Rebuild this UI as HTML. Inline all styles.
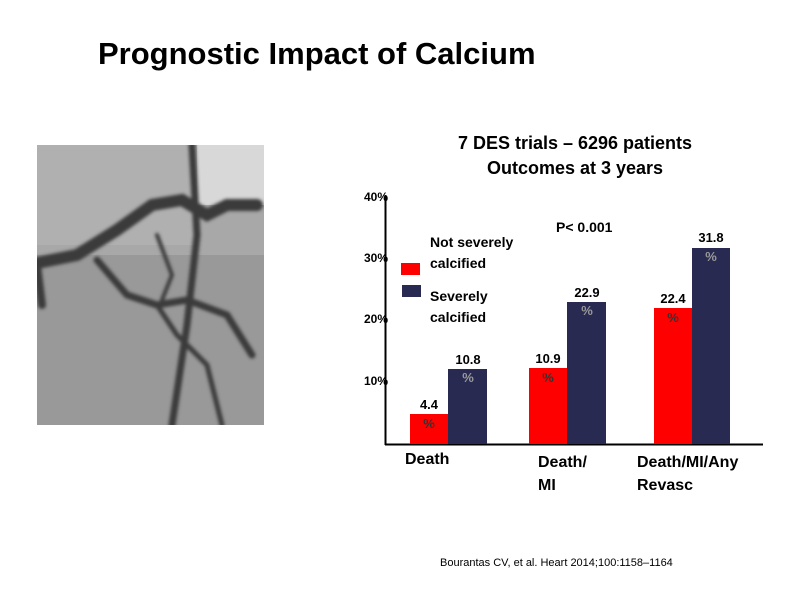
<!DOCTYPE html>
<html><head><style>
body{margin:0;width:800px;height:600px;background:#fff;position:relative;overflow:hidden;font-family:"Liberation Sans",sans-serif}
.a{position:absolute}
.b{font-weight:bold;color:#000}
.bar{position:absolute}
.r{background:#fe0000}.n{background:#282a52}
.v{position:absolute;font-weight:bold;font-size:13px;text-align:center;width:40px;line-height:14px}
</style></head><body>
<div class="a b" style="left:98px;top:36px;font-size:31px">Prognostic Impact of Calcium</div>
<svg class="a" style="left:37px;top:145px" width="227" height="280" viewBox="0 0 227 280">
<defs><filter id="f"><feGaussianBlur stdDeviation="1.5"/></filter></defs>
<rect width="227" height="280" fill="#999"/>
<rect x="0" y="0" width="227" height="110" fill="#a8a8a8"/>
<rect x="160" y="0" width="67" height="60" fill="#d8d8d8"/>
<rect x="0" y="0" width="160" height="100" fill="#b0b0b0"/>
<g filter="url(#f)" stroke="#3a3a3a" fill="none" stroke-linecap="round">
<path d="M0 118 L40 110 L80 85 L115 60 L145 55 L170 70 L190 60 L220 60" stroke-width="12"/>
<path d="M155 0 L160 90 L150 180 L135 280" stroke-width="7"/>
<path d="M60 115 L90 150 L120 160 L150 155 L190 170 L215 210" stroke-width="7"/>
<path d="M120 160 L140 190 L170 220 L185 280" stroke-width="5"/>
<path d="M0 120 L5 160" stroke-width="8"/>
<path d="M120 90 L135 130 L125 155" stroke-width="4"/>
</g>
</svg>
<div class="a b" style="left:420px;top:131px;width:310px;text-align:center;font-size:18px;line-height:25px">7 DES trials – 6296 patients<br>Outcomes at 3 years</div>
<svg class="a" style="left:0;top:0" width="800" height="600">
<line x1="385.5" y1="195" x2="385.5" y2="445" stroke="#000" stroke-width="2"/>
<line x1="385" y1="444.5" x2="763" y2="444.5" stroke="#000" stroke-width="2"/>
</svg>
<div class="a b" style="left:364px;top:190px;font-size:12px">40%</div>
<div class="a b" style="left:364px;top:251px;font-size:12px">30%</div>
<div class="a b" style="left:364px;top:312px;font-size:12px">20%</div>
<div class="a b" style="left:364px;top:374px;font-size:12px">10%</div>
<div class="a b" style="left:556px;top:219px;font-size:14px">P&lt; 0.001</div>
<div class="a r" style="left:401px;top:263px;width:19px;height:12px"></div>
<div class="a n" style="left:402px;top:285px;width:19px;height:12px"></div>
<div class="a b" style="left:430px;top:232px;font-size:14px;line-height:21px">Not severely<br>calcified</div>
<div class="a b" style="left:430px;top:286px;font-size:14px;line-height:21px">Severely<br>calcified</div>
<div class="bar r" style="left:410px;top:414px;width:38px;height:30px"></div>
<div class="bar n" style="left:448px;top:369px;width:39px;height:75px"></div>
<div class="bar r" style="left:529px;top:368px;width:38px;height:76px"></div>
<div class="bar n" style="left:567px;top:302px;width:39px;height:142px"></div>
<div class="bar r" style="left:654px;top:308px;width:38px;height:136px"></div>
<div class="bar n" style="left:692px;top:248px;width:38px;height:196px"></div>
<div class="v" style="left:409px;top:398px">4.4</div><div class="v" style="left:409px;top:417px;color:#333">%</div>
<div class="v" style="left:448px;top:353px">10.8</div><div class="v" style="left:448px;top:371px;color:#999">%</div>
<div class="v" style="left:528px;top:352px">10.9</div><div class="v" style="left:528px;top:371px;color:#333">%</div>
<div class="v" style="left:567px;top:286px">22.9</div><div class="v" style="left:567px;top:304px;color:#999">%</div>
<div class="v" style="left:653px;top:292px">22.4</div><div class="v" style="left:653px;top:311px;color:#333">%</div>
<div class="v" style="left:691px;top:231px">31.8</div><div class="v" style="left:691px;top:250px;color:#999">%</div>
<div class="a b" style="left:405px;top:451px;font-size:16px">Death</div>
<div class="a b" style="left:538px;top:451px;font-size:16px;line-height:23px">Death/<br>MI</div>
<div class="a b" style="left:637px;top:451px;font-size:16px;line-height:23px">Death/MI/Any<br>Revasc</div>
<div class="a" style="left:440px;top:557px;font-size:11px;color:#000">Bourantas CV, et al. Heart 2014;100:1158–1164</div>
</body></html>
